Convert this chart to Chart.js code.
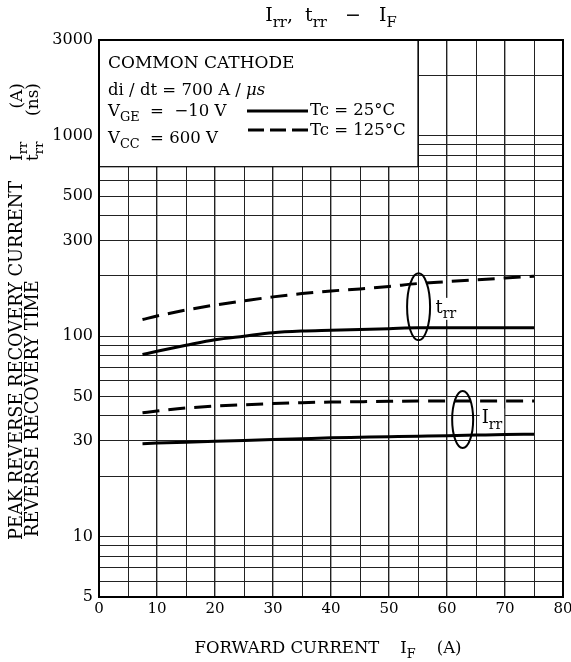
<!DOCTYPE html>
<html>
<head>
<meta charset="utf-8">
<script src="https://cdn.jsdelivr.net/npm/chart.js@4"></script>
<style>
  html, body { margin: 0; padding: 0; background: #fff; }
  canvas { display: block; }
</style>
</head>
<body>
<canvas id="chart" width="571" height="662"></canvas>
<script>
// forward current I_F (A)
const forwardCurrent = [7.5, 10, 15, 20, 25, 30, 35, 40, 45, 50, 55, 60, 65, 70, 75];

// reverse recovery time t_rr (ns)
const trr25 = [81, 84, 90, 96, 100, 104, 106, 107, 108, 109, 110, 110, 110, 110, 110];
const trr125 = [121, 126, 135, 143, 150, 157, 163, 168, 172, 177, 183, 187, 191, 195, 199];

// peak reverse recovery current I_rr (A)
const irr25 = [29.1, 29.3, 29.6, 29.9, 30.2, 30.5, 30.8, 31.1, 31.3, 31.5, 31.7, 31.9, 32.1, 32.3, 32.4];
const irr125 = [41.5, 42.3, 43.8, 44.8, 45.5, 46.1, 46.6, 46.9, 47.1, 47.3, 47.5, 47.5, 47.5, 47.5, 47.5];

const xTicks = [0, 5, 10, 15, 20, 25, 30, 35, 40, 45, 50, 55, 60, 65, 70, 75, 80];
const xTickLabels = [0, 10, 20, 30, 40, 50, 60, 70, 80];
const yGrid = [5, 6, 7, 8, 9, 10, 20, 30, 40, 50, 60, 70, 80, 90, 100,
               200, 300, 400, 500, 600, 700, 800, 900, 1000, 2000, 3000];
const yTickLabels = [5, 10, 30, 50, 100, 300, 500, 1000, 3000];

const FONT = '"DejaVu Serif", "Liberation Serif", serif';

const toPoints = (ys) => forwardCurrent.map((x, i) => ({ x: x, y: ys[i] }));

// draw text with subscripts: parts = [[text, isSub], ...]
const drawRich = (ctx, parts, x, y, size, align) => {
    const subSize = size * 0.78;
    let total = 0;
    parts.forEach(p => {
        ctx.font = `${p[1] ? subSize : size}px ${FONT}`;
        total += ctx.measureText(p[0]).width;
    });
    let cx = x;
    if (align === 'center') cx = x - total / 2;
    if (align === 'right') cx = x - total;
    ctx.textAlign = 'left';
    ctx.textBaseline = 'alphabetic';
    parts.forEach(p => {
        ctx.font = `${p[1] ? subSize : size}px ${FONT}`;
        ctx.fillText(p[0], cx, p[1] ? y + size * 0.3 : y);
        cx += ctx.measureText(p[0]).width;
    });
    return total;
};

const richWidth = (ctx, parts, size) => {
    let total = 0;
    parts.forEach(p => {
        ctx.font = `${p[1] ? size * 0.78 : size}px ${FONT}`;
        total += ctx.measureText(p[0]).width;
    });
    return total;
};

const lineDataset = (label, ys, dashed) => ({
    label: label,
    data: toPoints(ys),
    borderColor: '#000',
    borderWidth: 3,
    borderDash: dashed ? [17, 9] : [],
    pointRadius: 0,
    cubicInterpolationMode: 'monotone',
    fill: false
});

// white condition box in the upper left, drawn over the grid
const conditionBox = {
    id: 'conditionBox',
    beforeDatasetsDraw(chart) {
        const { ctx, chartArea: ca, scales: { x, y } } = chart;
        const right = x.getPixelForValue(55);
        const bottom = y.getPixelForValue(700);
        ctx.save();
        ctx.fillStyle = '#fff';
        ctx.fillRect(ca.left, ca.top, right - ca.left, bottom - ca.top);
        ctx.strokeStyle = '#000';
        ctx.lineWidth = 1.2;
        ctx.strokeRect(ca.left, ca.top, right - ca.left, bottom - ca.top);

        ctx.fillStyle = '#000';
        const lx = ca.left + 9;
        drawRich(ctx, [['COMMON CATHODE']], lx, ca.top + 28, 17, 'left');
        let w = drawRich(ctx, [['di / dt = 700 A / ']], lx, ca.top + 55, 16.5, 'left');
        ctx.font = `italic 16.5px ${FONT}`;
        ctx.fillText('\u03BCs', lx + w, ca.top + 55);
        drawRich(ctx, [['V'], ['GE', 1], ['  =  \u221210 V']], lx, ca.top + 76, 16.5, 'left');
        drawRich(ctx, [['V'], ['CC', 1], ['  = 600 V']], lx, ca.top + 103, 16.5, 'left');

        // line style key
        ctx.strokeStyle = '#000';
        ctx.lineWidth = 3;
        ctx.beginPath();
        ctx.moveTo(ca.left + 148, ca.top + 71);
        ctx.lineTo(ca.left + 209, ca.top + 71);
        ctx.stroke();
        ctx.setLineDash([16, 6]);
        ctx.beginPath();
        ctx.moveTo(ca.left + 149, ca.top + 90);
        ctx.lineTo(ca.left + 209, ca.top + 90);
        ctx.stroke();
        ctx.setLineDash([]);
        drawRich(ctx, [['Tc = 25\u00B0C']], ca.left + 211, ca.top + 75, 16.5, 'left');
        drawRich(ctx, [['Tc = 125\u00B0C']], ca.left + 211, ca.top + 95, 16.5, 'left');
        ctx.restore();
    }
};

// ellipses that group each pair of curves, plus their labels
const curveMarks = {
    id: 'curveMarks',
    afterDatasetsDraw(chart) {
        const { ctx, scales: { x, y } } = chart;
        const marks = [
            { x: 55.1, y: 140, rx: 11.5, ry: 33.5, parts: [['t'], ['rr', 1]], dx: 17, dy: 6 },
            { x: 62.7, y: 38.4, rx: 10.5, ry: 28.5, parts: [['I'], ['rr', 1]], dx: 19, dy: 4 }
        ];
        ctx.save();
        marks.forEach(m => {
            const cx = x.getPixelForValue(m.x);
            const cy = y.getPixelForValue(m.y);
            const tx = cx + m.dx;
            const ty = cy + m.dy;
            const w = richWidth(ctx, m.parts, 18);
            ctx.fillStyle = '#fff';
            ctx.fillRect(tx - 2, ty - 15, w + 4, 22);
            ctx.fillStyle = '#000';
            drawRich(ctx, m.parts, tx, ty, 18, 'left');
            ctx.strokeStyle = '#000';
            ctx.lineWidth = 2;
            ctx.beginPath();
            ctx.ellipse(cx, cy, m.rx, m.ry, 0, 0, Math.PI * 2);
            ctx.stroke();
        });
        ctx.restore();
    }
};

// frame, title and axis titles
const frameAndTitles = {
    id: 'frameAndTitles',
    afterDraw(chart) {
        const { ctx, chartArea: ca } = chart;
        ctx.save();
        ctx.strokeStyle = '#000';
        ctx.lineWidth = 2;
        ctx.strokeRect(ca.left, ca.top, ca.right - ca.left, ca.bottom - ca.top);

        ctx.fillStyle = '#000';
        const mid = (ca.left + ca.right) / 2;
        drawRich(ctx, [['I'], ['rr', 1], [',  t'], ['rr', 1], ['   \u2212   I'], ['F', 1]], mid, 21, 19, 'center');
        drawRich(ctx, [['FORWARD CURRENT    I'], ['F', 1], ['    (A)']], mid - 3, 653, 16.5, 'center');

        ctx.rotate(-Math.PI / 2);
        drawRich(ctx, [['PEAK REVERSE RECOVERY CURRENT']], -540, 22, 17.8, 'left');
        drawRich(ctx, [['REVERSE RECOVERY TIME']], -537, 38, 17.8, 'left');
        drawRich(ctx, [['I'], ['rr', 1]], -161, 22, 17, 'left');
        drawRich(ctx, [['t'], ['rr', 1]], -161, 38, 17, 'left');
        drawRich(ctx, [['(A)']], -83, 22, 17, 'right');
        drawRich(ctx, [['(ns)']], -83, 38, 17, 'right');
        ctx.restore();
    }
};

new Chart(document.getElementById('chart'), {
    type: 'line',
    data: {
        datasets: [
            lineDataset('trr Tc=25', trr25, false),
            lineDataset('trr Tc=125', trr125, true),
            lineDataset('Irr Tc=25', irr25, false),
            lineDataset('Irr Tc=125', irr125, true)
        ]
    },
    options: {
        responsive: false,
        animation: false,
        devicePixelRatio: 1,
        layout: { padding: { top: 40, right: 8, left: 0, bottom: 0 } },
        plugins: {
            legend: { display: false },
            tooltip: { enabled: false }
        },
        scales: {
            x: {
                type: 'linear',
                min: 0,
                max: 80,
                afterBuildTicks: (scale) => { scale.ticks = xTicks.map(v => ({ value: v })); },
                afterFit: (scale) => {
                    scale.height = 65;
                    scale.paddingLeft = 0;
                    scale.paddingRight = 0;
                },
                ticks: {
                    autoSkip: false,
                    maxRotation: 0,
                    padding: 3,
                    color: '#000',
                    font: { family: FONT, size: 15 },
                    callback: (value) => xTickLabels.includes(value) ? String(value) : ''
                },
                grid: {
                    drawTicks: false,
                    color: '#222',
                    lineWidth: (c) => (c.tick && c.tick.value % 10 === 0) ? 1.4 : 1
                },
                border: { display: true, color: '#000', width: 2 }
            },
            y: {
                type: 'logarithmic',
                min: 5,
                max: 3000,
                afterBuildTicks: (scale) => { scale.ticks = yGrid.map(v => ({ value: v })); },
                afterFit: (scale) => {
                    scale.width = 99;
                    scale.paddingTop = 0;
                    scale.paddingBottom = 0;
                },
                ticks: {
                    autoSkip: false,
                    padding: 6,
                    color: '#000',
                    font: { family: FONT, size: 16 },
                    callback: (value) => yTickLabels.includes(value) ? String(value) : ''
                },
                grid: {
                    drawTicks: false,
                    color: '#222',
                    lineWidth: 1
                },
                border: { display: true, color: '#000', width: 2 }
            }
        }
    },
    plugins: [conditionBox, curveMarks, frameAndTitles]
});
</script>
</body>
</html>
